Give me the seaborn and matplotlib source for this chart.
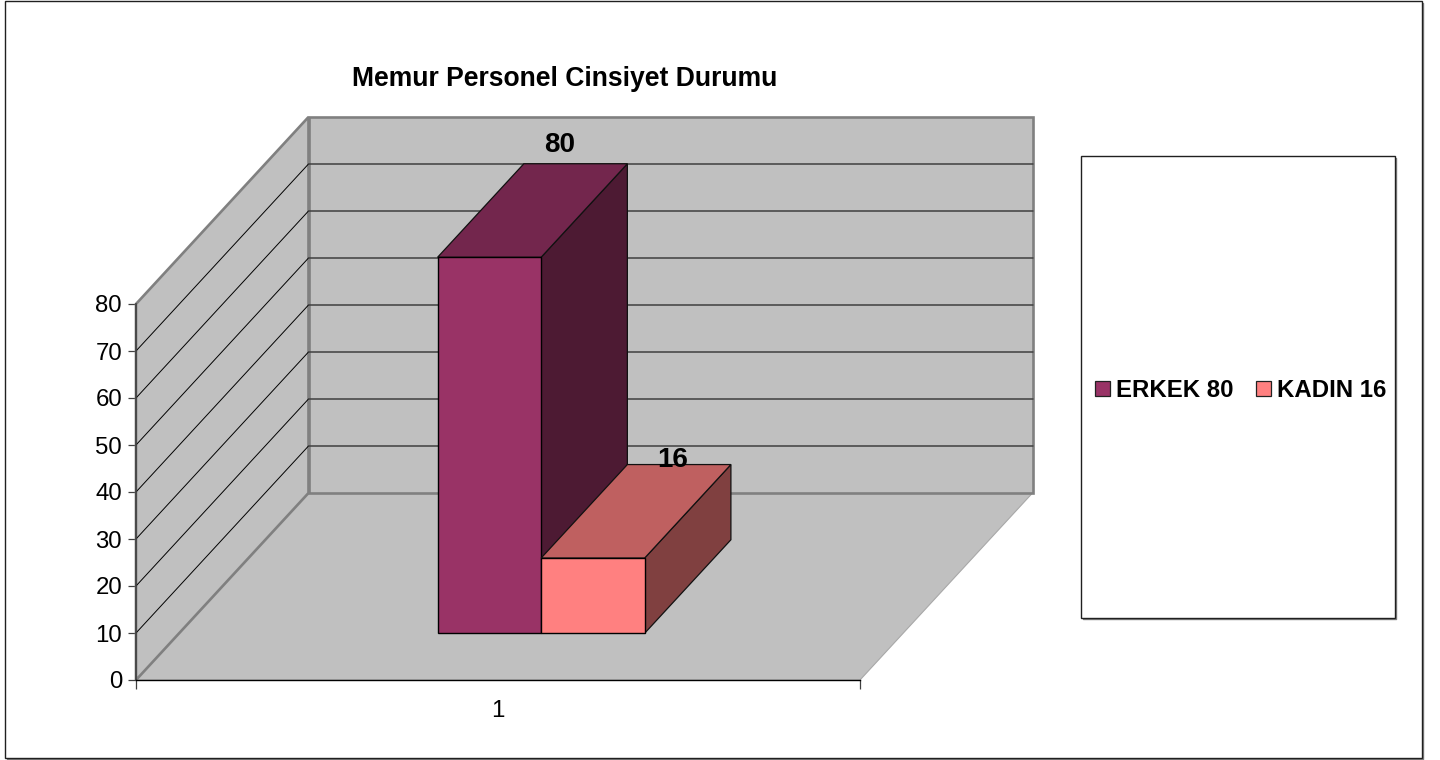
import matplotlib
matplotlib.use("Agg")
import matplotlib.pyplot as plt
import pandas as pd
import seaborn as sns
from matplotlib.lines import Line2D
from matplotlib.patches import Polygon, Rectangle
from matplotlib.transforms import Affine2D

categories = ["1"]
series_names = ["ERKEK 80", "KADIN 16"]
series_values = [80, 16]
series_labels = ["80", "16"]
front_colors = ["#993366", "#FF8080"]
top_colors = ["#73264D", "#BF6060"]
side_colors = ["#4D1A33", "#804040"]
y_ticks = list(range(0, 90, 10))
title = "Memur Personel Cinsiyet Durumu"

W, H = 1440, 760
sns.set_theme(style="white")
plt.rcParams["font.family"] = ["Liberation Sans", "DejaVu Sans"]
FS = 17.3
TITLE_FS = 19.1
LABEL_FS = 20.0
label_offsets = [(-16, 6), (-6, -8)]  # pixels, from the centre of the bar's back top edge

fig = plt.figure(figsize=(W / 100, H / 100), dpi=100, facecolor="white")
ax = fig.add_axes([136 / W, (H - 680) / H, 724 / W, 376 / H])
ax.patch.set_visible(False)

df = pd.DataFrame({"kategori": categories * 2, "seri": series_names, "deger": series_values})
sns.barplot(data=df, x="kategori", y="deger", hue="seri", hue_order=series_names,
            palette=front_colors, width=0.286, gap=0, saturation=1,
            edgecolor="black", linewidth=1.0, legend=False, ax=ax, zorder=5)
ax.set_xlim(-0.5, 0.5)
ax.set_ylim(0, 80)

DX, DY = 172.5, 187.0  # full depth of the box in pixels


def depth(d):
    return ax.transData + Affine2D().translate(DX * d, DY * d)


x0, x1 = ax.get_xlim()
y0, y1 = ax.get_ylim()
GRAY = "#C0C0C0"
EDGE = "#808080"

# floor, side wall, back wall
T0 = ax.transData
floor_pts = [T0.transform((x0, y0)), T0.transform((x1, y0)),
             depth(1).transform((x1, y0)), depth(1).transform((x0, y0))]
side_pts = [T0.transform((x0, y0)), T0.transform((x0, y1)),
            depth(1).transform((x0, y1)), depth(1).transform((x0, y0))]
back_pts = [depth(1).transform((x0, y0)), depth(1).transform((x0, y1)),
            depth(1).transform((x1, y1)), depth(1).transform((x1, y0))]
ax.add_patch(Polygon(floor_pts, closed=True, facecolor=GRAY, edgecolor="#A8A8A8", linewidth=0.8,
                     transform=None, clip_on=False, zorder=1))
for pts in (back_pts, side_pts):
    ax.add_patch(Polygon(pts, closed=True, facecolor=GRAY, edgecolor=EDGE, linewidth=1.9,
                         transform=None, clip_on=False, zorder=1, joinstyle="miter"))

# gridlines
for v in y_ticks[1:-1]:
    a = T0.transform((x0, v))
    b = depth(1).transform((x0, v))
    c = depth(1).transform((x1, v))
    ax.plot([a[0], b[0]], [a[1], b[1]], color="black", lw=0.7, transform=None, clip_on=False, zorder=2)
    ax.plot([b[0], c[0]], [b[1], c[1]], color="#404040", lw=1.1, transform=None, clip_on=False, zorder=2)

# bars: seaborn front faces moved to the front of their depth slot, then side and top faces
D_FRONT, D_BACK = 0.25, 0.75
bars = [p for p in ax.patches if isinstance(p, Rectangle) and p.get_width() < 0.5 and p.get_height() > 0]
bars = sorted(bars, key=lambda p: p.get_x())
for i, bar in enumerate(bars):
    bx0, bx1 = bar.get_x(), bar.get_x() + bar.get_width()
    h = bar.get_height()
    f, b = depth(D_FRONT), depth(D_BACK)
    z = 5 + i
    top = [f.transform((bx0, h)), f.transform((bx1, h)), b.transform((bx1, h)), b.transform((bx0, h))]
    side = [f.transform((bx1, 0)), f.transform((bx1, h)), b.transform((bx1, h)), b.transform((bx1, 0))]
    ax.add_patch(Polygon(side, closed=True, facecolor=side_colors[i], edgecolor="#111111", linewidth=0.9,
                         transform=None, clip_on=False, zorder=z))
    ax.add_patch(Polygon(top, closed=True, facecolor=top_colors[i], edgecolor="#111111", linewidth=0.9,
                         transform=None, clip_on=False, zorder=z))
    bar.set_transform(f)
    bar.set_clip_on(False)
    bar.set_zorder(z + 0.5)
    # value label
    lx, ly = b.transform((bx0 + bar.get_width() / 2, h))
    ax.text(lx + label_offsets[i][0], ly + label_offsets[i][1], series_labels[i], transform=None,
            ha="center", va="bottom", fontsize=LABEL_FS, fontweight="bold", color="black", zorder=20)

# axes furniture
for s in ax.spines.values():
    s.set_visible(False)
ax.spines["left"].set_visible(True)
ax.spines["left"].set_color("#404040")
ax.spines["left"].set_linewidth(1.2)
ax.spines["left"].set_zorder(3)
ax.spines["bottom"].set_visible(True)
ax.spines["bottom"].set_color("black")
ax.spines["bottom"].set_linewidth(1.0)
ax.spines["bottom"].set_zorder(3)
ax.set_yticks(y_ticks)
ax.set_yticklabels([str(v) for v in y_ticks])
ax.set_xticks([x0, x1])
ax.set_xticklabels(["", ""])
ax.set_xticks([0], labels=categories, minor=True)
ax.tick_params(axis="y", which="major", left=True, length=6, width=0.9, color="#404040", pad=4,
               labelsize=FS, labelcolor="black")
ax.tick_params(axis="x", which="major", bottom=True, length=6.5, width=0.9, color="#404040")
ax.tick_params(axis="x", which="minor", bottom=False, length=0, pad=14.5, labelsize=FS, labelcolor="black")
for t in ax.get_xticklabels(minor=True):
    t.set_x(-0.0015)
ax.set_xlabel("")
ax.set_ylabel("")


def fig_rect(xa, ya, xb, yb, **kw):
    fig.add_artist(Rectangle((xa / W, 1 - yb / H), (xb - xa) / W, (yb - ya) / H,
                             transform=fig.transFigure, **kw))


def fig_shadow(xa, ya, xb, yb):
    # grey line along the right and bottom edge of a box
    fig.add_artist(Line2D([xb / W, xb / W, xa / W], [1 - ya / H, 1 - yb / H, 1 - yb / H],
                          transform=fig.transFigure, color="#808080", lw=1.0, zorder=-2))


# outer frame and its shadow
fig_shadow(7, 3, 1422.5, 759)
fig_rect(5, 1, 1421.5, 758, fill=False, edgecolor="#202020", linewidth=1.0, zorder=-1)

# legend box and its shadow
fig_shadow(1083, 158, 1396, 618.5)
fig_rect(1081, 156, 1395, 617.5, facecolor="white", edgecolor="#202020", linewidth=1.0, zorder=-1)

handles = [plt.Rectangle((0, 0), 1, 1, facecolor=c, edgecolor="#222222", linewidth=0.9) for c in front_colors]
leg = fig.legend(handles, series_names, ncol=2, frameon=False, loc="center",
                 bbox_to_anchor=(1240.5 / W, 1 - 390.5 / H), prop={"size": FS, "weight": "bold"},
                 handlelength=0.62, handleheight=0.62, handletextpad=0.25, columnspacing=0.95,
                 borderpad=0, borderaxespad=0)
for t in leg.get_texts():
    t.set_color("black")

fig.text(564.5 / W, 1 - 78.5 / H, title, ha="center", va="center", fontsize=TITLE_FS,
         fontweight="bold", color="black")

fig.savefig("out.png", dpi=100, facecolor="white")
